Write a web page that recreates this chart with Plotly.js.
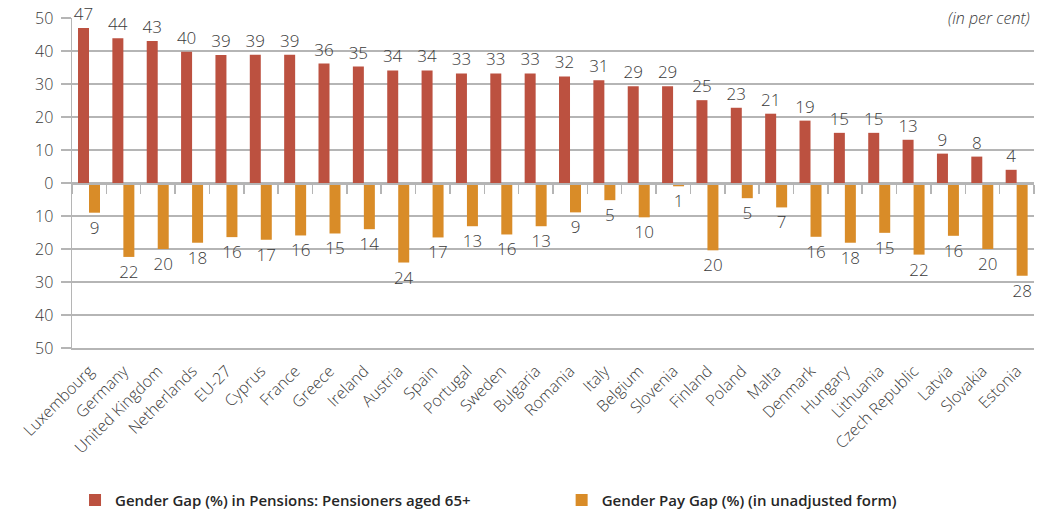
<!DOCTYPE html>
<html>
<head>
<meta charset="utf-8">
<script src="https://cdn.plot.ly/plotly-3.0.1.min.js"></script>
<style>html,body{margin:0;padding:0;background:#fff;}#chart{width:1042px;height:513px;}</style>
</head>
<body>
<div id="chart"></div>
<script>
const countries = ["Luxembourg","Germany","United Kingdom","Netherlands","EU-27","Cyprus","France","Greece","Ireland","Austria","Spain","Portugal","Sweden","Bulgaria","Romania","Italy","Belgium","Slovenia","Finland","Poland","Malta","Denmark","Hungary","Lithuania","Czech Republic","Latvia","Slovakia","Estonia"];
const pensionGap = [47.0,43.9,43.0,39.8,38.8,38.9,38.9,36.2,35.3,34.1,34.1,33.2,33.2,33.2,32.3,31.1,29.3,29.3,25.1,22.8,21.0,18.9,15.2,15.2,13.1,8.9,8.0,4.0];
const payGap = [9.0,22.4,20.0,18.1,16.4,17.2,15.9,15.3,14.0,24.1,16.5,13.1,15.6,13.1,8.9,5.2,10.4,1.0,20.4,4.6,7.4,16.3,18.1,15.1,21.7,16.0,20.0,28.1];
const yTickVals = [-50,-40,-30,-20,-10,0,10,20,30,40,50];
const yTickText = ["50","40","30","20","10","0","10","20","30","40","50"];
const seriesNames = ["Gender Gap (%) in Pensions: Pensioners aged 65+","Gender Pay Gap (%) (in unadjusted form)"];

const RED = "#BC5140", ORANGE = "#D98C28", TXT = "#3a3a3a", GRID = "#b5b5b5";
const FONT = "Open Sans, Noto Sans, sans-serif";
const LEGFONT = {family: FONT, size: 15, color: "#262626", weight: 600};

const traces = [
  {
    type: "bar", name: seriesNames[0], x: countries, y: pensionGap,
    xaxis: "x", yaxis: "y", legend: "legend",
    marker: {color: RED}, offset: -0.325, width: 0.32,
    text: pensionGap.map(v => String(Math.round(v))), textposition: "outside",
    constraintext: "none",
    textfont: {family: FONT, size: 17, color: TXT, weight: 300},
    cliponaxis: false, hoverinfo: "x+y"
  },
  {
    type: "bar", name: seriesNames[1], x: countries, y: payGap.map(v => -v),
    xaxis: "x2", yaxis: "y", legend: "legend2",
    marker: {color: ORANGE}, offset: -0.005, width: 0.32,
    text: payGap.map(v => String(Math.round(v))), textposition: "outside",
    constraintext: "none",
    textfont: {family: FONT, size: 17, color: TXT, weight: 300},
    cliponaxis: false, hoverinfo: "x+y"
  }
];

const layout = {
  width: 1042, height: 513,
  margin: {l: 72, r: 8, t: 18, b: 165},
  paper_bgcolor: "#fff", plot_bgcolor: "#fff",
  font: {family: FONT, color: TXT, size: 16},
  showlegend: true,
  legend: {orientation: "h", xref: "container", yref: "container", x: 0.072, xanchor: "left", y: 0.025, yanchor: "middle", font: LEGFONT},
  legend2: {orientation: "h", xref: "container", yref: "container", x: 0.539, xanchor: "left", y: 0.025, yanchor: "middle", font: LEGFONT},
  xaxis: {
    type: "category", range: [-0.5, countries.length - 0.5], automargin: false,
    showline: true, linecolor: GRID, linewidth: 1.5, mirror: false,
    showgrid: false, ticks: "", tickangle: -45, ticklabelstandoff: 6,
    tickfont: {family: FONT, size: 16, color: TXT, weight: 300},
    fixedrange: true
  },
  xaxis2: {
    type: "category", matches: "x", overlaying: "x", anchor: "free", position: 0.5,
    side: "bottom", showline: true, linecolor: GRID, linewidth: 1.5, automargin: false,
    ticks: "outside", tickson: "boundaries", ticklen: 9, tickcolor: GRID, tickwidth: 1.5,
    showticklabels: false, showgrid: false
  },
  yaxis: {
    range: [-50, 50], tickvals: yTickVals, ticktext: yTickText, automargin: false,
    showgrid: true, gridcolor: GRID, gridwidth: 1.5,
    zeroline: true, zerolinecolor: GRID, zerolinewidth: 1.5,
    showline: true, linecolor: GRID, linewidth: 1.5,
    ticks: "outside", ticklen: 10, tickcolor: GRID, tickwidth: 1.5, ticklabelstandoff: 4,
    tickfont: {family: FONT, size: 16, color: TXT, weight: 300},
    fixedrange: true
  },
  annotations: [{
    text: "<i>(in per cent)</i>", xref: "paper", yref: "paper", x: 1, y: 1,
    xanchor: "right", yanchor: "middle", showarrow: false,
    bgcolor: "#fff", borderpad: 3,
    font: {family: FONT, size: 16, color: TXT, weight: 300}
  }],
  bargap: 0.36
};

Plotly.newPlot("chart", traces, layout, {displayModeBar: false, staticPlot: true});
</script>
</body>
</html>
